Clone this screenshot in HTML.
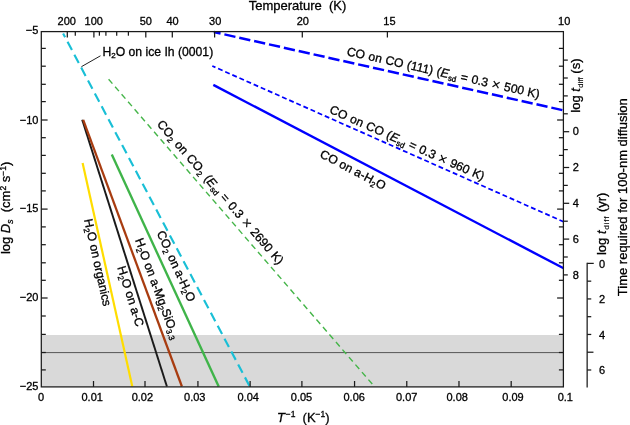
<!DOCTYPE html>
<html lang="en"><head><meta charset="utf-8"><title>Surface diffusion</title>
<style>html,body{margin:0;padding:0;background:#fff}svg{display:block}text{font-variant-ligatures:none;font-family:"Liberation Sans", sans-serif;fill:#000;stroke:#000;stroke-width:0.3px}.tk{font-size:11px}.ti{font-size:13px}.lb{font-size:12.2px}.it{font-style:italic}</style></head><body>
<svg width="630" height="425" viewBox="0 0 630 425">
<rect x="0" y="0" width="630" height="425" fill="#fff"/>
<rect x="41.30" y="335.00" width="522.10" height="51.90" fill="#d9d9d9"/>
<line x1="41.30" y1="352.6" x2="563.40" y2="352.6" stroke="#555" stroke-width="1"/>
<line x1="82.60" y1="163.00" x2="132.30" y2="386.50" stroke="#ffdd00" stroke-width="2.2"/>
<line x1="82.20" y1="119.80" x2="166.90" y2="386.50" stroke="#1a1a1a" stroke-width="1.95"/>
<line x1="83.20" y1="119.80" x2="181.90" y2="386.50" stroke="#a83c10" stroke-width="2.25"/>
<line x1="111.80" y1="154.60" x2="218.70" y2="386.50" stroke="#3fb449" stroke-width="2.35"/>
<line x1="63.10" y1="33.40" x2="249.80" y2="386.50" stroke="#19bfd6" stroke-width="2.15" stroke-dasharray="9.4 5.2" stroke-dashoffset="5.1"/>
<line x1="108.60" y1="79.20" x2="374.20" y2="386.30" stroke="#45b549" stroke-width="1.4" stroke-dasharray="5.85 4.08" stroke-dashoffset="0"/>
<line x1="213.80" y1="32.00" x2="563.60" y2="110.40" stroke="#0000ff" stroke-width="2.5" stroke-dasharray="11.3 3.93" stroke-dashoffset="4.37"/>
<line x1="212.30" y1="66.00" x2="563.60" y2="221.80" stroke="#0000ff" stroke-width="1.75" stroke-dasharray="4.9 2.88" stroke-dashoffset="1.44"/>
<line x1="213.30" y1="84.90" x2="563.60" y2="268.30" stroke="#0000ff" stroke-width="2.4"/>
<rect x="41.30" y="31.60" width="522.10" height="355.30" fill="none" stroke="#1a1a1a" stroke-width="1.25"/>
<line x1="41.30" y1="48.40" x2="45.80" y2="48.40" stroke="#1a1a1a" stroke-width="1.25"/>
<line x1="558.90" y1="48.40" x2="563.40" y2="48.40" stroke="#1a1a1a" stroke-width="1.25"/>
<line x1="41.30" y1="66.20" x2="45.80" y2="66.20" stroke="#1a1a1a" stroke-width="1.25"/>
<line x1="558.90" y1="66.20" x2="563.40" y2="66.20" stroke="#1a1a1a" stroke-width="1.25"/>
<line x1="41.30" y1="84.30" x2="45.80" y2="84.30" stroke="#1a1a1a" stroke-width="1.25"/>
<line x1="558.90" y1="84.30" x2="563.40" y2="84.30" stroke="#1a1a1a" stroke-width="1.25"/>
<line x1="41.30" y1="101.60" x2="45.80" y2="101.60" stroke="#1a1a1a" stroke-width="1.25"/>
<line x1="558.90" y1="101.60" x2="563.40" y2="101.60" stroke="#1a1a1a" stroke-width="1.25"/>
<line x1="41.30" y1="120.00" x2="47.60" y2="120.00" stroke="#1a1a1a" stroke-width="1.25"/>
<line x1="557.10" y1="120.00" x2="563.40" y2="120.00" stroke="#1a1a1a" stroke-width="1.25"/>
<line x1="41.30" y1="137.70" x2="45.80" y2="137.70" stroke="#1a1a1a" stroke-width="1.25"/>
<line x1="558.90" y1="137.70" x2="563.40" y2="137.70" stroke="#1a1a1a" stroke-width="1.25"/>
<line x1="41.30" y1="155.40" x2="45.80" y2="155.40" stroke="#1a1a1a" stroke-width="1.25"/>
<line x1="558.90" y1="155.40" x2="563.40" y2="155.40" stroke="#1a1a1a" stroke-width="1.25"/>
<line x1="41.30" y1="173.30" x2="45.80" y2="173.30" stroke="#1a1a1a" stroke-width="1.25"/>
<line x1="558.90" y1="173.30" x2="563.40" y2="173.30" stroke="#1a1a1a" stroke-width="1.25"/>
<line x1="41.30" y1="190.90" x2="45.80" y2="190.90" stroke="#1a1a1a" stroke-width="1.25"/>
<line x1="558.90" y1="190.90" x2="563.40" y2="190.90" stroke="#1a1a1a" stroke-width="1.25"/>
<line x1="41.30" y1="209.10" x2="47.60" y2="209.10" stroke="#1a1a1a" stroke-width="1.25"/>
<line x1="557.10" y1="209.10" x2="563.40" y2="209.10" stroke="#1a1a1a" stroke-width="1.25"/>
<line x1="41.30" y1="226.90" x2="45.80" y2="226.90" stroke="#1a1a1a" stroke-width="1.25"/>
<line x1="558.90" y1="226.90" x2="563.40" y2="226.90" stroke="#1a1a1a" stroke-width="1.25"/>
<line x1="41.30" y1="244.70" x2="45.80" y2="244.70" stroke="#1a1a1a" stroke-width="1.25"/>
<line x1="558.90" y1="244.70" x2="563.40" y2="244.70" stroke="#1a1a1a" stroke-width="1.25"/>
<line x1="41.30" y1="262.80" x2="45.80" y2="262.80" stroke="#1a1a1a" stroke-width="1.25"/>
<line x1="558.90" y1="262.80" x2="563.40" y2="262.80" stroke="#1a1a1a" stroke-width="1.25"/>
<line x1="41.30" y1="280.30" x2="45.80" y2="280.30" stroke="#1a1a1a" stroke-width="1.25"/>
<line x1="558.90" y1="280.30" x2="563.40" y2="280.30" stroke="#1a1a1a" stroke-width="1.25"/>
<line x1="41.30" y1="298.00" x2="47.60" y2="298.00" stroke="#1a1a1a" stroke-width="1.25"/>
<line x1="557.10" y1="298.00" x2="563.40" y2="298.00" stroke="#1a1a1a" stroke-width="1.25"/>
<line x1="41.30" y1="316.00" x2="45.80" y2="316.00" stroke="#1a1a1a" stroke-width="1.25"/>
<line x1="558.90" y1="316.00" x2="563.40" y2="316.00" stroke="#1a1a1a" stroke-width="1.25"/>
<line x1="41.30" y1="334.40" x2="45.80" y2="334.40" stroke="#1a1a1a" stroke-width="1.25"/>
<line x1="558.90" y1="334.40" x2="563.40" y2="334.40" stroke="#1a1a1a" stroke-width="1.25"/>
<line x1="41.30" y1="352.50" x2="45.80" y2="352.50" stroke="#1a1a1a" stroke-width="1.25"/>
<line x1="558.90" y1="352.50" x2="563.40" y2="352.50" stroke="#1a1a1a" stroke-width="1.25"/>
<line x1="41.30" y1="369.90" x2="45.80" y2="369.90" stroke="#1a1a1a" stroke-width="1.25"/>
<line x1="558.90" y1="369.90" x2="563.40" y2="369.90" stroke="#1a1a1a" stroke-width="1.25"/>
<line x1="93.51" y1="386.90" x2="93.51" y2="381.00" stroke="#1a1a1a" stroke-width="1.25"/>
<line x1="145.00" y1="386.90" x2="145.00" y2="381.00" stroke="#1a1a1a" stroke-width="1.25"/>
<line x1="197.93" y1="386.90" x2="197.93" y2="381.00" stroke="#1a1a1a" stroke-width="1.25"/>
<line x1="250.14" y1="386.90" x2="250.14" y2="381.00" stroke="#1a1a1a" stroke-width="1.25"/>
<line x1="301.90" y1="386.90" x2="301.90" y2="381.00" stroke="#1a1a1a" stroke-width="1.25"/>
<line x1="354.56" y1="386.90" x2="354.56" y2="381.00" stroke="#1a1a1a" stroke-width="1.25"/>
<line x1="406.77" y1="386.90" x2="406.77" y2="381.00" stroke="#1a1a1a" stroke-width="1.25"/>
<line x1="458.98" y1="386.90" x2="458.98" y2="381.00" stroke="#1a1a1a" stroke-width="1.25"/>
<line x1="511.19" y1="386.90" x2="511.19" y2="381.00" stroke="#1a1a1a" stroke-width="1.25"/>
<line x1="67.30" y1="31.60" x2="67.30" y2="37.50" stroke="#1a1a1a" stroke-width="1.25"/>
<line x1="75.30" y1="31.60" x2="75.30" y2="35.70" stroke="#1a1a1a" stroke-width="1.25"/>
<line x1="93.90" y1="31.60" x2="93.90" y2="37.50" stroke="#1a1a1a" stroke-width="1.25"/>
<line x1="99.40" y1="31.60" x2="99.40" y2="35.70" stroke="#1a1a1a" stroke-width="1.25"/>
<line x1="105.90" y1="31.60" x2="105.90" y2="35.70" stroke="#1a1a1a" stroke-width="1.25"/>
<line x1="116.70" y1="31.60" x2="116.70" y2="35.70" stroke="#1a1a1a" stroke-width="1.25"/>
<line x1="128.40" y1="31.60" x2="128.40" y2="35.70" stroke="#1a1a1a" stroke-width="1.25"/>
<line x1="145.80" y1="31.60" x2="145.80" y2="37.50" stroke="#1a1a1a" stroke-width="1.25"/>
<line x1="172.30" y1="31.60" x2="172.30" y2="37.50" stroke="#1a1a1a" stroke-width="1.25"/>
<line x1="214.60" y1="31.60" x2="214.60" y2="37.50" stroke="#1a1a1a" stroke-width="1.25"/>
<line x1="302.30" y1="31.60" x2="302.30" y2="37.50" stroke="#1a1a1a" stroke-width="1.25"/>
<line x1="387.40" y1="31.60" x2="387.40" y2="37.50" stroke="#1a1a1a" stroke-width="1.25"/>
<line x1="563.40" y1="60.10" x2="567.80" y2="60.10" stroke="#1a1a1a" stroke-width="1.25"/>
<line x1="563.40" y1="78.00" x2="567.80" y2="78.00" stroke="#1a1a1a" stroke-width="1.25"/>
<line x1="563.40" y1="95.90" x2="567.80" y2="95.90" stroke="#1a1a1a" stroke-width="1.25"/>
<line x1="563.40" y1="113.80" x2="567.80" y2="113.80" stroke="#1a1a1a" stroke-width="1.25"/>
<line x1="563.40" y1="131.70" x2="569.20" y2="131.70" stroke="#1a1a1a" stroke-width="1.25"/>
<line x1="563.40" y1="149.60" x2="567.80" y2="149.60" stroke="#1a1a1a" stroke-width="1.25"/>
<line x1="563.40" y1="167.50" x2="569.20" y2="167.50" stroke="#1a1a1a" stroke-width="1.25"/>
<line x1="563.40" y1="185.40" x2="567.80" y2="185.40" stroke="#1a1a1a" stroke-width="1.25"/>
<line x1="563.40" y1="203.30" x2="569.20" y2="203.30" stroke="#1a1a1a" stroke-width="1.25"/>
<line x1="563.40" y1="221.20" x2="567.80" y2="221.20" stroke="#1a1a1a" stroke-width="1.25"/>
<line x1="563.40" y1="239.10" x2="569.20" y2="239.10" stroke="#1a1a1a" stroke-width="1.25"/>
<line x1="563.40" y1="257.00" x2="567.80" y2="257.00" stroke="#1a1a1a" stroke-width="1.25"/>
<line x1="563.40" y1="274.90" x2="567.80" y2="274.90" stroke="#1a1a1a" stroke-width="1.25"/>
<line x1="587.15" y1="262.77" x2="587.15" y2="387.52" stroke="#1a1a1a" stroke-width="1.25"/>
<line x1="587.15" y1="263.40" x2="593.75" y2="263.40" stroke="#1a1a1a" stroke-width="1.25"/>
<line x1="587.15" y1="281.16" x2="591.25" y2="281.16" stroke="#1a1a1a" stroke-width="1.25"/>
<line x1="587.15" y1="298.93" x2="591.25" y2="298.93" stroke="#1a1a1a" stroke-width="1.25"/>
<line x1="587.15" y1="316.69" x2="591.25" y2="316.69" stroke="#1a1a1a" stroke-width="1.25"/>
<line x1="587.15" y1="334.46" x2="591.25" y2="334.46" stroke="#1a1a1a" stroke-width="1.25"/>
<line x1="587.15" y1="352.22" x2="593.45" y2="352.22" stroke="#1a1a1a" stroke-width="1.25"/>
<line x1="587.15" y1="369.99" x2="591.25" y2="369.99" stroke="#1a1a1a" stroke-width="1.25"/>
<text x="38.40" y="34.35" class="tk" text-anchor="end">−5</text>
<text x="38.40" y="123.95" class="tk" text-anchor="end">−10</text>
<text x="38.40" y="212.05" class="tk" text-anchor="end">−15</text>
<text x="38.40" y="301.45" class="tk" text-anchor="end">−20</text>
<text x="38.40" y="390.35" class="tk" text-anchor="end">−25</text>
<text x="41.00" y="401.40" class="tk" text-anchor="middle">0</text>
<text x="92.20" y="401.40" class="tk" text-anchor="middle">0.01</text>
<text x="142.40" y="401.40" class="tk" text-anchor="middle">0.02</text>
<text x="194.80" y="401.40" class="tk" text-anchor="middle">0.03</text>
<text x="248.20" y="401.40" class="tk" text-anchor="middle">0.04</text>
<text x="301.50" y="401.40" class="tk" text-anchor="middle">0.05</text>
<text x="354.20" y="401.40" class="tk" text-anchor="middle">0.06</text>
<text x="406.70" y="401.40" class="tk" text-anchor="middle">0.07</text>
<text x="457.20" y="401.40" class="tk" text-anchor="middle">0.08</text>
<text x="513.00" y="401.40" class="tk" text-anchor="middle">0.09</text>
<text x="565.30" y="401.40" class="tk" text-anchor="middle">0.1</text>
<text x="66.80" y="25.10" class="tk" text-anchor="middle">200</text>
<text x="93.80" y="25.10" class="tk" text-anchor="middle">100</text>
<text x="145.80" y="25.10" class="tk" text-anchor="middle">50</text>
<text x="172.50" y="25.10" class="tk" text-anchor="middle">40</text>
<text x="215.20" y="25.10" class="tk" text-anchor="middle">30</text>
<text x="302.80" y="25.10" class="tk" text-anchor="middle">20</text>
<text x="389.40" y="25.10" class="tk" text-anchor="middle">15</text>
<text x="564.20" y="25.10" class="tk" text-anchor="middle">10</text>
<text x="572.70" y="135.45" class="tk" text-anchor="start">0</text>
<text x="572.70" y="171.25" class="tk" text-anchor="start">2</text>
<text x="572.70" y="207.05" class="tk" text-anchor="start">4</text>
<text x="572.70" y="242.85" class="tk" text-anchor="start">6</text>
<text x="572.70" y="278.65" class="tk" text-anchor="start">8</text>
<text x="599.00" y="267.50" class="tk" text-anchor="start">0</text>
<text x="599.00" y="303.03" class="tk" text-anchor="start">2</text>
<text x="599.00" y="338.56" class="tk" text-anchor="start">4</text>
<text x="599.00" y="374.09" class="tk" text-anchor="start">6</text>
<text x="297.50" y="9.60" class="ti" text-anchor="middle">Temperature  (K)</text>
<text x="303.30" y="421.60" class="ti" text-anchor="middle"><tspan class="it">T</tspan><tspan dy="-4.5" font-size="8.5" dx="0.8">−1</tspan><tspan dy="4.5">  (K</tspan><tspan dy="-4.5" font-size="8.5">−1</tspan><tspan dy="4.5">)</tspan></text>
<text transform="translate(10.30 207.90) rotate(-90.00)" class="ti" text-anchor="middle" style="word-spacing:0px"><tspan>log </tspan><tspan class="it">D</tspan><tspan dy="2.50" class="it" font-size="8.5">s</tspan><tspan dy="-2.50">  (cm</tspan><tspan dy="-4.50" font-size="8.5">2</tspan><tspan dy="4.50"> s</tspan><tspan dy="-4.50" font-size="8.5">−1</tspan><tspan dy="4.50">)</tspan></text>
<text transform="translate(580.20 85.60) rotate(-90.00)" class="ti" text-anchor="middle" style="word-spacing:0px"><tspan>log </tspan><tspan class="it">t</tspan><tspan dy="2.50" font-size="7.6" style="letter-spacing:0.1px;stroke-width:0.15px" dx="0.4">diff</tspan><tspan dy="-2.50"> (s)</tspan></text>
<text transform="translate(606.00 223.80) rotate(-90.00)" class="ti" text-anchor="middle" style="word-spacing:0px"><tspan>log </tspan><tspan class="it">t</tspan><tspan dy="2.50" font-size="8" style="letter-spacing:0.9px;stroke-width:0.15px" dx="0.6">diff</tspan><tspan dy="-2.50"> (yr)</tspan></text>
<text transform="translate(627.30 197.20) rotate(-90.00)" class="ti" text-anchor="middle" style="word-spacing:0px">Time required for 100-nm diffusion</text>
<line x1="81.4" y1="66.7" x2="100.5" y2="55.8" stroke="#222" stroke-width="1"/>
<text x="102.40" y="55.70" class="lb" text-anchor="start"><tspan>H</tspan><tspan dy="2.50" font-size="8">2</tspan><tspan dy="-2.50">O on ice Ih (0001)</tspan></text>
<text transform="translate(156.40 124.50) rotate(49.14)" class="lb" text-anchor="start" style="word-spacing:0.9px"><tspan>CO</tspan><tspan dy="2.50" font-size="8">2</tspan><tspan dy="-2.50"> on CO</tspan><tspan dy="2.50" font-size="8">2</tspan><tspan dy="-2.50"> (</tspan><tspan class="it">E</tspan><tspan dy="2.50" font-size="8">sd</tspan><tspan dy="-2.50"> = 0.3 </tspan><tspan dy="1.00" font-size="15" style="stroke-width:0.1px">×</tspan><tspan dy="-1.00"> 2690 K)</tspan></text>
<text transform="translate(346.20 55.20) rotate(12.63)" class="lb" text-anchor="start" style="word-spacing:0.45px"><tspan>CO on CO (111)</tspan><tspan> (</tspan><tspan class="it">E</tspan><tspan dy="2.50" font-size="8">sd</tspan><tspan dy="-2.50"> = 0.3 </tspan><tspan dy="1.00" font-size="15" style="stroke-width:0.1px">×</tspan><tspan dy="-1.00"> 500 K)</tspan></text>
<text transform="translate(328.70 112.60) rotate(23.92)" class="lb" text-anchor="start" style="word-spacing:0.6px"><tspan>CO on CO</tspan><tspan> (</tspan><tspan class="it">E</tspan><tspan dy="2.50" font-size="8">sd</tspan><tspan dy="-2.50"> = 0.3 </tspan><tspan dy="1.00" font-size="15" style="stroke-width:0.1px">×</tspan><tspan dy="-1.00"> 960 K)</tspan></text>
<text transform="translate(319.10 156.70) rotate(27.63)" class="lb" text-anchor="start" style="word-spacing:0px"><tspan>CO on a-H</tspan><tspan dy="2.50" font-size="8">2</tspan><tspan dy="-2.50">O</tspan></text>
<text transform="translate(156.50 233.00) rotate(65.25)" class="lb" text-anchor="start" style="word-spacing:0px"><tspan>CO</tspan><tspan dy="2.50" font-size="8">2</tspan><tspan dy="-2.50"> on a-H</tspan><tspan dy="2.50" font-size="8">2</tspan><tspan dy="-2.50">O</tspan></text>
<text transform="translate(135.00 240.00) rotate(69.69)" class="lb" text-anchor="start" style="word-spacing:0px"><tspan>H</tspan><tspan dy="2.50" font-size="8">2</tspan><tspan dy="-2.50">O on a-Mg</tspan><tspan dy="2.50" font-size="8">2</tspan><tspan dy="-2.50">SiO</tspan><tspan dy="2.50" font-size="8">3.3</tspan></text>
<text transform="translate(117.30 267.60) rotate(72.38)" class="lb" text-anchor="start" style="word-spacing:0px"><tspan>H</tspan><tspan dy="2.50" font-size="8">2</tspan><tspan dy="-2.50">O on a-C</tspan></text>
<text transform="translate(84.00 219.80) rotate(77.46)" class="lb" text-anchor="start" style="word-spacing:0px"><tspan>H</tspan><tspan dy="2.50" font-size="8">2</tspan><tspan dy="-2.50">O on organics</tspan></text>
</svg></body></html>
